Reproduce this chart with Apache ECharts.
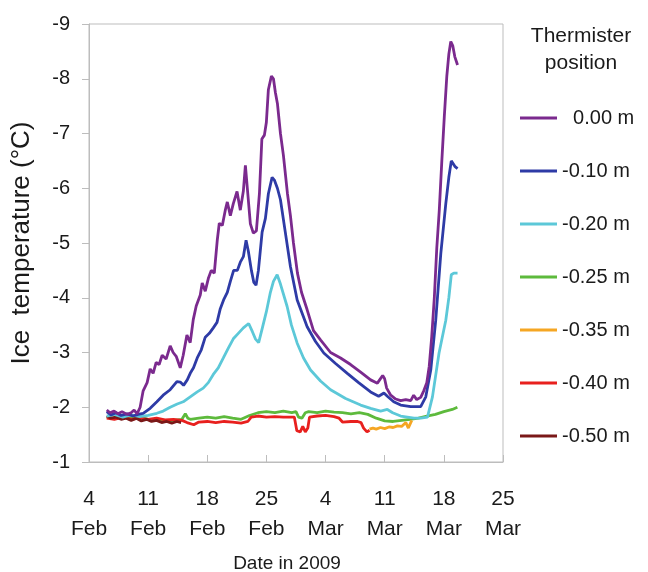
<!DOCTYPE html>
<html>
<head>
<meta charset="utf-8">
<script src="https://cdn.jsdelivr.net/npm/echarts@6/dist/echarts.min.js"></script>
<style>html,body{margin:0;padding:0;background:#fff;}#c{width:648px;height:572px;}</style>
</head>
<body>
<div id="c"></div>
<script>
// x = days since 4 Feb 2009
var xTickLabels = ['4\nFeb','11\nFeb','18\nFeb','25\nFeb','4\nMar','11\nMar','18\nMar','25\nMar'];
var seriesNames = ['0.00 m','-0.10 m','-0.20 m','-0.25 m','-0.35 m','-0.40 m','-0.50 m'];

var t000 = [[2.1,-1.95],[2.49,-1.9],[2.97,-1.93],[3.44,-1.88],[3.91,-1.92],[4.51,-1.87],[4.98,-1.9],[5.34,-1.95],[5.69,-1.88],[6.05,-2.0],[6.41,-2.3],[6.88,-2.45],[7.24,-2.7],[7.59,-2.62],[7.95,-2.82],[8.3,-2.78],[8.66,-2.95],[9.13,-2.88],[9.61,-3.12],[9.96,-3.0],[10.32,-2.93],[10.8,-2.72],[11.15,-2.95],[11.59,-3.32],[11.98,-3.18],[12.34,-3.6],[12.69,-3.85],[13.17,-4.05],[13.4,-4.27],[13.76,-4.12],[14.12,-4.35],[14.47,-4.5],[14.83,-4.45],[15.18,-5.05],[15.42,-5.36],[15.78,-5.32],[16.13,-5.6],[16.37,-5.75],[16.73,-5.5],[17.08,-5.72],[17.52,-5.94],[17.91,-5.6],[18.27,-5.95],[18.51,-6.42],[18.74,-6.0],[19.1,-5.35],[19.45,-5.18],[19.81,-5.22],[20.17,-5.9],[20.46,-6.9],[20.76,-6.97],[20.99,-7.2],[21.23,-7.8],[21.59,-8.05],[21.83,-8.0],[22.06,-7.75],[22.3,-7.55],[22.66,-7.0],[23.01,-6.6],[23.49,-5.9],[23.84,-5.5],[24.2,-5.0],[24.67,-4.45],[25.15,-4.1],[25.82,-3.78],[26.57,-3.4],[27.4,-3.23],[28.59,-3.0],[29.77,-2.9],[30.96,-2.78],[32.15,-2.64],[33.33,-2.5],[34.13,-2.44],[34.4,-2.5],[34.76,-2.58],[34.99,-2.52],[35.23,-2.35],[35.71,-2.22],[36.3,-2.15],[36.89,-2.12],[37.49,-2.14],[38.08,-2.12],[38.43,-2.22],[38.79,-2.14],[39.26,-2.18],[39.62,-2.3],[39.98,-2.45],[40.27,-2.75],[40.57,-3.3],[40.87,-4.0],[41.16,-4.9],[41.46,-5.6],[41.76,-6.5],[42.05,-7.3],[42.35,-8.05],[42.59,-8.45],[42.82,-8.68],[43.06,-8.6],[43.3,-8.4],[43.62,-8.25]];

var t010 = [[2.1,-1.92],[2.6,-1.86],[3.2,-1.9],[3.8,-1.85],[4.5,-1.88],[5.2,-1.84],[5.8,-1.87],[6.41,-1.89],[7.24,-1.98],[8.03,-2.1],[8.78,-2.22],[9.61,-2.32],[10.4,-2.47],[10.8,-2.46],[11.19,-2.4],[11.63,-2.5],[11.98,-2.62],[12.37,-2.72],[12.81,-2.9],[13.29,-3.05],[13.76,-3.28],[14.24,-3.35],[14.71,-3.45],[15.15,-3.55],[15.54,-3.8],[15.93,-3.96],[16.37,-4.1],[16.73,-4.3],[17.12,-4.5],[17.56,-4.5],[17.91,-4.65],[18.27,-4.75],[18.59,-5.05],[18.86,-4.85],[19.22,-4.5],[19.51,-4.28],[19.77,-4.23],[20.05,-4.5],[20.49,-5.2],[20.88,-5.45],[21.23,-5.9],[21.67,-6.2],[21.94,-6.15],[22.3,-6.0],[22.66,-5.79],[23.25,-5.18],[23.84,-4.57],[24.64,-3.96],[25.82,-3.47],[26.81,-3.2],[27.79,-2.99],[29.18,-2.8],[30.57,-2.62],[31.91,-2.45],[33.33,-2.28],[34.28,-2.2],[34.91,-2.26],[35.31,-2.2],[36.06,-2.1],[36.89,-2.04],[38.08,-2.01],[39.26,-2.01],[39.86,-2.19],[40.45,-2.68],[41.04,-3.59],[41.64,-4.81],[42.23,-5.72],[42.59,-6.2],[42.88,-6.5],[43.06,-6.48],[43.3,-6.4],[43.62,-6.36]];

var t020 = [[2.1,-1.84],[3,-1.87],[4,-1.82],[5,-1.86],[6,-1.83],[7,-1.85],[8.03,-1.89],[8.78,-1.93],[9.61,-2.0],[10.44,-2.06],[11.15,-2.1],[11.98,-2.19],[12.81,-2.28],[13.52,-2.35],[14.12,-2.45],[14.71,-2.6],[15.3,-2.72],[15.9,-2.9],[16.49,-3.08],[17.08,-3.25],[17.67,-3.35],[18.27,-3.45],[18.9,-3.53],[19.34,-3.38],[19.69,-3.25],[20.08,-3.18],[20.52,-3.45],[21.0,-3.75],[21.47,-4.1],[21.83,-4.3],[22.27,-4.42],[22.66,-4.25],[23.45,-3.84],[23.96,-3.5],[24.64,-3.17],[25.39,-2.9],[26.22,-2.68],[27.4,-2.48],[28.59,-2.32],[30.37,-2.16],[32.15,-2.04],[33.33,-1.98],[34.52,-1.93],[35.31,-1.96],[35.94,-1.9],[36.89,-1.84],[38.47,-1.8],[39.26,-1.8],[40.06,-1.82],[40.65,-2.19],[41.43,-2.99],[42.23,-3.59],[42.59,-4.0],[42.88,-4.42],[43.18,-4.45],[43.62,-4.45]];

var t025 = [[2.1,-1.82],[3,-1.8],[4,-1.84],[5,-1.8],[6,-1.82],[7,-1.78],[8,-1.76],[9,-1.74],[10,-1.76],[11,-1.78],[11.4,-1.88],[11.7,-1.8],[12,-1.78],[13,-1.8],[14,-1.82],[15,-1.8],[16,-1.83],[17,-1.8],[18,-1.78],[19,-1.85],[20,-1.9],[21,-1.92],[22,-1.9],[23,-1.93],[24,-1.9],[24.5,-1.92],[24.8,-1.82],[25.2,-1.8],[25.6,-1.9],[26,-1.92],[27,-1.9],[28,-1.93],[29,-1.91],[30,-1.9],[31,-1.88],[32,-1.9],[33,-1.87],[34,-1.8],[35,-1.75],[36,-1.74],[37,-1.76],[38,-1.78],[39,-1.8],[40,-1.84],[41,-1.87],[42,-1.92],[43,-1.96],[43.6,-2.0]];

var t035 = [[33.2,-1.6],[33.6,-1.62],[34,-1.6],[34.5,-1.63],[35,-1.61],[35.5,-1.64],[36,-1.63],[36.5,-1.66],[37,-1.65],[37.5,-1.72],[37.8,-1.62],[38.2,-1.76]];

var t040 = [[2.1,-1.8],[3,-1.78],[4,-1.82],[5,-1.78],[6,-1.8],[7,-1.78],[8,-1.8],[9,-1.77],[10,-1.78],[11,-1.76],[11.6,-1.72],[12.4,-1.68],[13,-1.73],[14,-1.74],[15,-1.72],[16,-1.74],[17,-1.73],[18,-1.71],[18.8,-1.74],[19.2,-1.82],[20,-1.84],[21,-1.82],[22,-1.83],[23,-1.82],[24.3,-1.82],[24.6,-1.57],[25.0,-1.55],[25.3,-1.65],[25.6,-1.55],[25.9,-1.62],[26.1,-1.82],[27,-1.84],[28,-1.85],[29,-1.83],[29.6,-1.8],[30,-1.73],[31,-1.74],[31.8,-1.74],[32.2,-1.72],[32.5,-1.62],[32.9,-1.55],[33.2,-1.58]];

var t050 = [[2.1,-1.84],[2.6,-1.8],[3.2,-1.82],[3.8,-1.78],[4.4,-1.8],[5.0,-1.76],[5.6,-1.8],[6.2,-1.75],[6.8,-1.78],[7.4,-1.74],[8,-1.76],[8.6,-1.72],[9.2,-1.74],[9.8,-1.71],[10.4,-1.74],[10.9,-1.72]];

var colors = {'0.00 m':'#7B2A8E','-0.10 m':'#2E3BA6','-0.20 m':'#5CC8D8','-0.25 m':'#5DBA3C','-0.35 m':'#F5A623','-0.40 m':'#E8201E','-0.50 m':'#7A1818'};
var dataByName = {'0.00 m':t000,'-0.10 m':t010,'-0.20 m':t020,'-0.25 m':t025,'-0.35 m':t035,'-0.40 m':t040,'-0.50 m':t050};
var drawOrder = ['-0.25 m','-0.35 m','-0.40 m','-0.50 m','-0.20 m','-0.10 m','0.00 m'];

var FONT = '"Liberation Sans", Arial, sans-serif';
var TXT = '#1a1a1a';
var AX = '#bdbdbd';

var chart = echarts.init(document.getElementById('c'), null, {renderer:'canvas'});
chart.setOption({
  animation:false,
  backgroundColor:'#fff',
  textStyle:{fontFamily:FONT},
  title:{text:'Thermister\nposition', left:576, top:18, textAlign:'center',
    textStyle:{fontFamily:FONT, fontSize:21, fontWeight:'normal', color:TXT, lineHeight:27}},
  legend:{orient:'vertical', left:515, top:103, itemWidth:37, itemHeight:14, itemGap:33,
    icon:'path://M0,0L37,0L37,3L0,3Z',
    data:seriesNames,
    formatter:function(n){return n.charAt(0)==='-' ? n : '  '+n;},
    textStyle:{fontFamily:FONT, fontSize:20, color:TXT}},
  grid:{left:89, right:145, top:24, bottom:110, outerBoundsMode:'none', containLabel:false,
    show:true, borderColor:AX, borderWidth:1, backgroundColor:'transparent'},
  xAxis:{type:'value', min:0, max:49, interval:7,
    name:'Date in 2009', nameLocation:'middle', nameGap:92,
    nameTextStyle:{fontFamily:FONT, fontSize:19, color:TXT, padding:[0,18,0,0]},
    axisLine:{show:true, lineStyle:{color:AX, width:1}},
    axisTick:{show:true, inside:true, length:7, lineStyle:{color:AX}},
    splitLine:{show:false},
    axisLabel:{margin:22, fontFamily:FONT, fontSize:21, color:TXT, lineHeight:30,
      formatter:function(v){ return xTickLabels[Math.round(v/7)] || ''; }}},
  yAxis:{type:'value', inverse:true, min:-9, max:-1, interval:1,
    name:'Ice  temperature (\u00B0C)', nameLocation:'middle', nameGap:54,
    nameTextStyle:{fontFamily:FONT, fontSize:26, color:TXT},
    axisLine:{show:true, lineStyle:{color:AX, width:1}},
    axisTick:{show:true, inside:false, length:7, lineStyle:{color:AX}},
    splitLine:{show:false},
    axisLabel:{margin:19, fontFamily:FONT, fontSize:20, color:TXT}},
  series: drawOrder.map(function(n){
    return {name:n, type:'line', data:dataByName[n], showSymbol:false, symbol:'none',
      lineStyle:{width:2.8, color:colors[n]}, itemStyle:{color:colors[n]}};
  })
});
</script>
</body>
</html>
